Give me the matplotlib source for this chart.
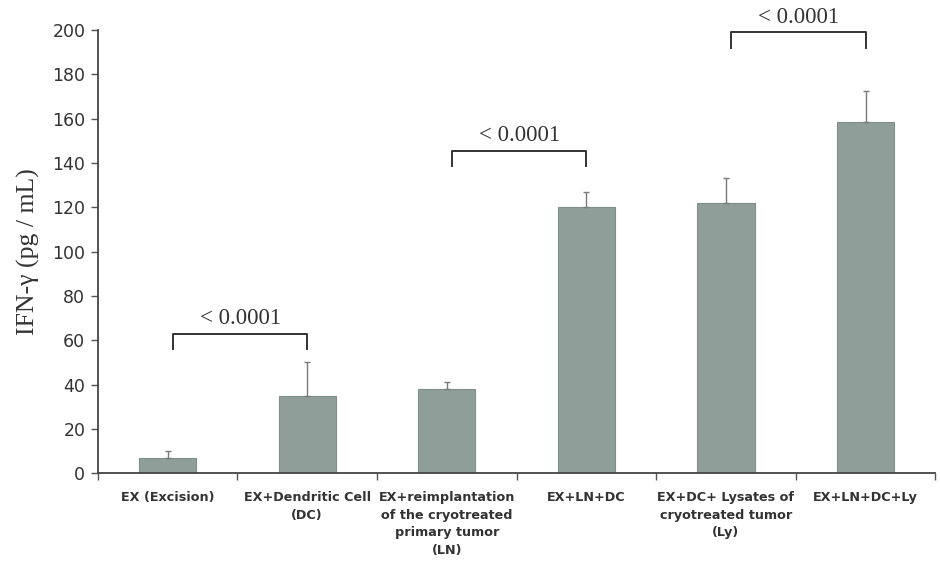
import matplotlib
matplotlib.use("Agg")
import matplotlib.pyplot as plt
import numpy as np

# Groups and measured IFN-gamma (mean and upper SD)
categories = [
    "EX (Excision)",
    "EX+Dendritic Cell\n(DC)",
    "EX+reimplantation\nof the cryotreated\nprimary tumor\n(LN)",
    "EX+LN+DC",
    "EX+DC+ Lysates of\ncryotreated tumor\n(Ly)",
    "EX+LN+DC+Ly",
]
means = [7, 35, 38, 120, 122, 158.5]
errors = [3, 15, 3, 7, 11, 14]

# Significance brackets: (left group, right group, bar height, label)
bracket_left = [0, 2, 4]
bracket_right = [1, 3, 5]
bracket_height = [63, 145.5, 199]
bracket_label = ["< 0.0001", "< 0.0001", "< 0.0001"]

yticks = list(range(0, 201, 20))

fig = plt.figure(figsize=(9.4, 5.75), dpi=100)
ax = fig.add_axes([0.104, 0.177, 0.891, 0.771])

x = np.arange(len(categories))
bar_color = "#8f9e99"
ax.bar(x, means, width=0.41, color=bar_color, edgecolor="#7f8e89", linewidth=0.8, zorder=2)
ax.errorbar(x, means, yerr=[np.zeros(len(errors)), errors], fmt="none",
            ecolor="#7a7a7a", elinewidth=1.0, capsize=2.5, capthick=1.0, zorder=3)

ax.set_xlim(-0.5, len(categories) - 0.5)
ax.set_ylim(0, 200)
ax.set_yticks(yticks)
ax.set_yticklabels([str(v) for v in yticks], fontsize=12.5, color="#333333",
                   family="DejaVu Sans")

# Category labels centred under bars; ticks sit at the group boundaries
ax.set_xticks(x)
ax.set_xticklabels(categories, fontsize=9.2, fontweight="bold", color="#333333",
                   linespacing=1.45, va="top")
ax.tick_params(axis="x", which="major", length=0, pad=13)
ax.set_xticks(np.arange(-0.5, len(categories)), minor=True)
ax.tick_params(axis="x", which="minor", length=5, width=1.0, color="#555555", direction="out")
ax.tick_params(axis="y", length=5, width=1.0, color="#555555", direction="out", pad=4)

for side in ("top", "right"):
    ax.spines[side].set_visible(False)
for side in ("left", "bottom"):
    ax.spines[side].set_color("#444444")
    ax.spines[side].set_linewidth(1.3)

ax.set_ylabel("IFN-\u03b3 (pg / mL)", family="Liberation Serif", fontsize=18.5,
              color="#333333", labelpad=9)

# Significance brackets
for l, r, h, lab in zip(bracket_left, bracket_right, bracket_height, bracket_label):
    drop = 7
    ax.plot([x[l] + 0.04, x[l] + 0.04, x[r], x[r]], [h - drop, h, h, h - drop],
            color="#333333", linewidth=1.4, clip_on=False, zorder=4)
    ax.text((x[l] + 0.04 + x[r]) / 2, h + 2.0, lab, ha="center", va="bottom",
            family="Liberation Serif", fontsize=16.5, color="#333333", clip_on=False)

fig.savefig("out.png", dpi=100, facecolor="white")
